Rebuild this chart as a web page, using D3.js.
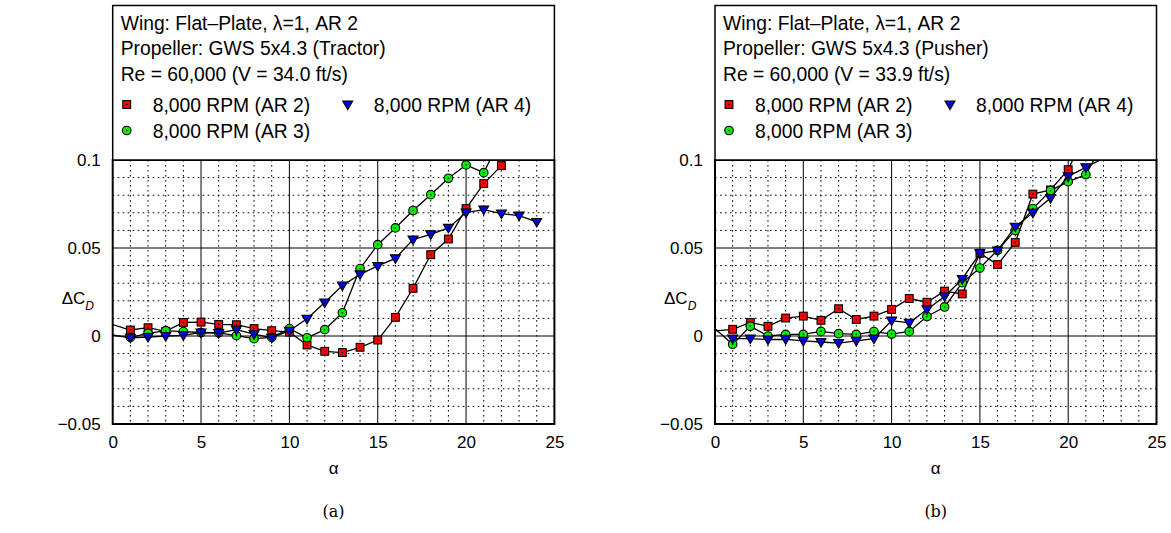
<!DOCTYPE html>
<html><head><meta charset="utf-8">
<script src="https://cdn.jsdelivr.net/npm/d3@7"></script>
<style>body{margin:0;background:#fff} svg{display:block}</style>
</head><body><svg id="c" width="1171" height="533"></svg>
<script>
// ---- data ----
const alphaTicks = [0, 5, 10, 15, 20, 25];
const cdTicks = [-0.05, 0, 0.05, 0.1];
const cdTickLabels = ["\u22120.05", "0", "0.05", "0.1"];
const seriesNames = ["8,000 RPM (AR 2)", "8,000 RPM (AR 3)", "8,000 RPM (AR 4)"];
const seriesColors = ["#ff0000", "#00ee00", "#0000ff"];
const seriesShapes = ["square", "circle", "triangle"];

// (a) Tractor
const tracAR2Alpha = [-1,1,2,3,4,5,6,7,8,9,10,11,12,13,14,15,16,17,18,19,20,21,22,23];
const tracAR2 = [0.0096,0.0034,0.0047,0.0026,0.0077,0.0079,0.0066,0.0064,0.0042,0.0030,0.0022,-0.0051,-0.0087,-0.0094,-0.0064,-0.0023,0.0106,0.0271,0.0462,0.0551,0.0724,0.0866,0.0968,0.111];
const tracAR3Alpha = [1,2,3,4,5,6,7,8,9,10,11,12,13,14,15,16,17,18,19,20,21,22];
const tracAR3 = [-0.0008,0.0015,0.0030,0.0025,0.0020,0.0018,0.0002,-0.0015,-0.0008,0.0042,-0.0010,0.0036,0.0132,0.0383,0.0519,0.0614,0.0713,0.0803,0.0896,0.0972,0.0928,0.113];
const tracAR4Alpha = [-1,1,2,3,4,5,6,7,8,9,10,11,12,13,14,15,16,17,18,19,20,21,22,23,24];
const tracAR4 = [0.0020,-0.0010,-0.0006,0.0000,0.0004,0.0020,0.0017,0.0036,0.0011,-0.0011,0.0030,0.0098,0.0190,0.0287,0.0350,0.0398,0.0441,0.0548,0.0578,0.0614,0.0701,0.0718,0.0695,0.0684,0.0648];

// (b) Pusher
const pushAR2Alpha = [-1,1,2,3,4,5,6,7,8,9,10,11,12,13,14,15,16,17,18,19,20,21];
const pushAR2 = [0.0020,0.0038,0.0077,0.0055,0.0102,0.0113,0.0089,0.0155,0.0094,0.0113,0.0151,0.0213,0.0192,0.0255,0.0239,0.0470,0.0406,0.0532,0.0806,0.0830,0.0945,0.116];
const pushAR3Alpha = [-1,1,2,3,4,5,6,7,8,9,10,11,12,13,14,15,16,17,18,19,20,21,22];
const pushAR3 = [0.0130,-0.0047,0.0055,0.0000,0.0009,0.0009,0.0026,0.0013,0.0009,0.0025,0.0011,0.0026,0.0111,0.0165,0.0303,0.0386,0.0487,0.0600,0.0724,0.0826,0.0877,0.0917,0.110];
const pushAR4Alpha = [1,2,3,4,5,6,7,8,9,10,11,12,13,14,15,16,17,18,19,20,21,22];
const pushAR4 = [-0.0015,-0.0015,-0.0020,-0.0019,-0.0028,-0.0034,-0.0040,-0.0028,-0.0015,0.0087,0.0075,0.0151,0.0225,0.0324,0.0470,0.0485,0.0621,0.0700,0.0784,0.0907,0.0958,0.101];

const panelTitles = [
  ["Wing: Flat\u2013Plate, \u03bb=1, AR 2", "Propeller: GWS 5x4.3 (Tractor)", "Re = 60,000 (V = 34.0 ft/s)"],
  ["Wing: Flat\u2013Plate, \u03bb=1, AR 2", "Propeller: GWS 5x4.3 (Pusher)", "Re = 60,000 (V = 33.9 ft/s)"]
];
const panelCaptions = ["(a)", "(b)"];

// ---- layout ----
const svg = d3.select("#c");
const FONT = "'Liberation Sans', Arial, Helvetica, sans-serif";
const panels = [
  {x0: 112.7, x1: 554.4, series: [[tracAR2Alpha, tracAR2],[tracAR3Alpha, tracAR3],[tracAR4Alpha, tracAR4]]},
  {x0: 715.0, x1: 1156.5, series: [[pushAR2Alpha, pushAR2],[pushAR3Alpha, pushAR3],[pushAR4Alpha, pushAR4]]}
];
const yTop = 160, yBot = 424;

function drawMarker(g, shape, color, cx, cy) {
  if (shape === "square") {
    g.append("rect").attr("x", cx-3.9).attr("y", cy-3.9).attr("width", 7.8).attr("height", 7.8)
      .attr("fill", color).attr("stroke", "#000").attr("stroke-width", 1.1);
  } else if (shape === "circle") {
    g.append("circle").attr("cx", cx).attr("cy", cy).attr("r", 4.3)
      .attr("fill", color).attr("stroke", "#000").attr("stroke-width", 1.1);
  } else {
    const w = 5, h = 4.4;
    g.append("path").attr("d", `M${cx-w},${cy-h*0.8}L${cx+w},${cy-h*0.8}L${cx},${cy+h*1.15}Z`)
      .attr("fill", color).attr("stroke", "#000").attr("stroke-width", 1.1);
  }
  g.append("circle").attr("cx", cx).attr("cy", cy).attr("r", 0.8).attr("fill", "#000");
}

panels.forEach((p, pi) => {
  const x = d3.scaleLinear().domain([0, 25]).range([p.x0, p.x1]);
  const y = d3.scaleLinear().domain([-0.05, 0.1]).range([yBot, yTop]);
  const g = svg.append("g");
  const clipId = "clip" + pi;
  svg.append("clipPath").attr("id", clipId).append("rect")
    .attr("x", p.x0).attr("y", yTop).attr("width", p.x1 - p.x0).attr("height", yBot - yTop);

  // minor grid
  const minorX = d3.range(1, 25).filter(v => v % 5 !== 0);
  const minorY = d3.range(-4, 10).map(v => v / 100).filter(v => Math.abs(Math.round(v*100)) % 5 !== 0);
  g.selectAll(".mx").data(minorX).enter().append("line")
    .attr("x1", d => x(d)).attr("x2", d => x(d)).attr("y1", yTop).attr("y2", yBot)
    .attr("stroke", "#000").attr("stroke-width", 1).attr("stroke-dasharray", "1.6,3.4");
  g.selectAll(".my").data(minorY).enter().append("line")
    .attr("y1", d => y(d)).attr("y2", d => y(d)).attr("x1", p.x0).attr("x2", p.x1)
    .attr("stroke", "#000").attr("stroke-width", 1).attr("stroke-dasharray", "1.6,3.4");
  // major grid
  g.selectAll(".Mx").data([5, 10, 15, 20]).enter().append("line")
    .attr("x1", d => x(d)).attr("x2", d => x(d)).attr("y1", yTop).attr("y2", yBot)
    .attr("stroke", "#000").attr("stroke-width", 1);
  g.selectAll(".My").data([0, 0.05]).enter().append("line")
    .attr("y1", d => y(d)).attr("y2", d => y(d)).attr("x1", p.x0).attr("x2", p.x1)
    .attr("stroke", "#000").attr("stroke-width", 1);

  // series
  p.series.forEach(([al, vals], si) => {
    const pts = al.map((a, i) => [a, vals[i]]);
    const line = d3.line().x(d => x(d[0])).y(d => y(d[1]));
    g.append("path").attr("d", line(pts)).attr("fill", "none").attr("stroke", "#000")
      .attr("stroke-width", 1.3).attr("clip-path", `url(#${clipId})`);
    const mg = g.append("g");
    pts.filter(d => d[0] >= 0 && d[0] <= 25 && d[1] >= -0.05 && d[1] <= 0.1)
      .forEach(d => drawMarker(mg, seriesShapes[si], seriesColors[si], x(d[0]), y(d[1])));
  });

  // frame
  g.append("rect").attr("x", p.x0).attr("y", yTop).attr("width", p.x1 - p.x0).attr("height", yBot - yTop)
    .attr("fill", "none").attr("stroke", "#000").attr("stroke-width", 2);

  // axes (labels only)
  const xa = g.append("g").attr("transform", `translate(0,${yBot})`)
    .call(d3.axisBottom(x).tickValues(alphaTicks).tickSize(0).tickPadding(12).tickFormat(d3.format("d")));
  xa.select(".domain").remove();
  xa.selectAll("text").attr("font-family", FONT).attr("font-size", 17).attr("fill", "#000");
  const ya = g.append("g").attr("transform", `translate(${p.x0},0)`)
    .call(d3.axisLeft(y).tickValues(cdTicks).tickSize(0).tickPadding(12).tickFormat((d, i) => cdTickLabels[i]));
  ya.select(".domain").remove();
  ya.selectAll("text").attr("font-family", FONT).attr("font-size", 17).attr("fill", "#000");

  // axis titles
  g.append("text").attr("x", (p.x0 + p.x1) / 2).attr("y", 474).attr("text-anchor", "middle")
    .attr("font-family", FONT).attr("font-size", 17).text("\u03b1");
  const yl = g.append("text").attr("x", p.x0 - 51).attr("y", 304).attr("font-family", FONT).attr("font-size", 17);
  yl.append("tspan").text("\u0394C");
  yl.append("tspan").attr("dy", 6).attr("font-size", 12).attr("font-style", "italic").text("D");
  g.append("text").attr("x", (p.x0 + p.x1) / 2).attr("y", 517).attr("text-anchor", "middle")
    .attr("font-family", "'DejaVu Serif', 'Liberation Serif', serif").attr("font-size", 16).text(panelCaptions[pi]);

  // legend box
  const lg = g.append("g");
  lg.append("rect").attr("x", p.x0).attr("y", 5.5).attr("width", p.x1 - p.x0).attr("height", yTop - 5.5)
    .attr("fill", "#fff").attr("stroke", "#000").attr("stroke-width", 1.5);
  panelTitles[pi].forEach((t, i) => {
    lg.append("text").attr("x", p.x0 + 8).attr("y", [29.5, 55, 80.5][i])
      .attr("font-family", FONT).attr("font-size", 19.3).text(t);
  });
  const legPos = [[14, 104.5], [14, 130.5], [235, 104.5]];
  seriesNames.forEach((n, si) => {
    const [dx, cy] = legPos[si];
    drawMarker(lg, seriesShapes[si], seriesColors[si], p.x0 + dx, cy);
    lg.append("text").attr("x", p.x0 + dx + 26).attr("y", cy + 7)
      .attr("font-family", FONT).attr("font-size", 19.3).text(n);
  });
});
</script>
</body></html>
